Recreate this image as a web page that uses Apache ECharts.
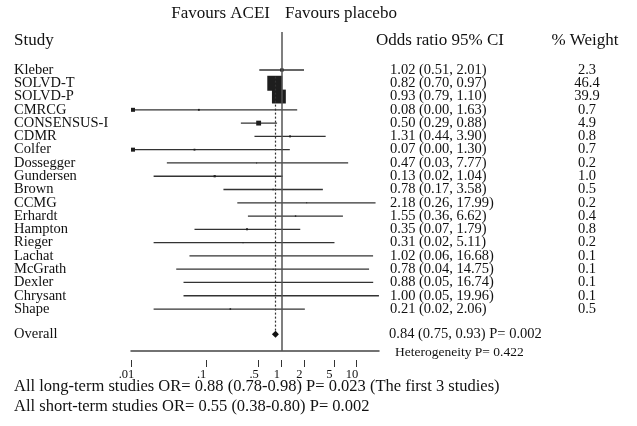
<!DOCTYPE html>
<html>
<head>
<meta charset="utf-8">
<script src="https://cdn.jsdelivr.net/npm/echarts@6/dist/echarts.min.js"></script>
<style>
html, body { margin: 0; padding: 0; background: #fff; }
#chart { width: 637px; height: 426px; }
</style>
</head>
<body>
<div id="chart"></div>
<script>
// study data
var studies = ['Kleber', 'SOLVD-T', 'SOLVD-P', 'CMRCG', 'CONSENSUS-I', 'CDMR', 'Colfer', 'Dossegger',
	'Gundersen', 'Brown', 'CCMG', 'Erhardt', 'Hampton', 'Rieger', 'Lachat', 'McGrath', 'Dexler', 'Chrysant', 'Shape'];
var oddsRatio = [1.02, 0.82, 0.93, 0.08, 0.50, 1.31, 0.07, 0.47, 0.13, 0.78, 2.18, 1.55, 0.35, 0.31, 1.02, 0.78, 0.88, 1.00, 0.21];
var ciLower = [0.51, 0.70, 0.79, 0.00, 0.29, 0.44, 0.00, 0.03, 0.02, 0.17, 0.26, 0.36, 0.07, 0.02, 0.06, 0.04, 0.05, 0.05, 0.02];
var ciUpper = [2.01, 0.97, 1.10, 1.63, 0.88, 3.90, 1.30, 7.77, 1.04, 3.58, 17.99, 6.62, 1.79, 5.11, 16.68, 14.75, 16.74, 19.96, 2.06];
var weights = [2.3, 46.4, 39.9, 0.7, 4.9, 0.8, 0.7, 0.2, 1.0, 0.5, 0.2, 0.4, 0.8, 0.2, 0.1, 0.1, 0.1, 0.1, 0.5];

// pooled estimate: OR, lower, upper
var overallEst = [0.84, 0.75, 0.93];
var overallP = '0.002';
var heterogeneityP = '0.422';

var tickValues = [0.01, 0.1, 0.5, 1, 2, 5, 10];

var footerLines = [
	'All long-term studies OR= 0.88 (0.78-0.98) P= 0.023 (The first 3 studies)',
	'All short-term studies OR= 0.55 (0.38-0.80) P= 0.002'
];

var FONT = '"Liberation Serif", "Times New Roman", serif';
var X_MIN = 0.01, X_MAX = 20;
var overallRow = studies.length + 0.9;

var fmt = function(v){
	return v.toFixed(2);
};

var txt = function(x, y, text, size, align){
	return {
		type:'text',
		x:x,
		y:y,
		style:{
			text:text,
			fill:'#111',
			fontFamily:FONT,
			fontSize:size,
			align:align || 'left',
			verticalAlign:'middle'
		}
	};
};

var chart = echarts.init(document.getElementById('chart'));

var studyData = [];
for( var i = 0; i < studies.length; i++ ){
	studyData.push([oddsRatio[i], i]);
}

chart.setOption({
	animation:false,
	grid:{left:131, right:258, top:32, bottom:75},
	xAxis:[
		{
			type:'log',
			logBase:10,
			min:X_MIN,
			max:X_MAX,
			position:'bottom',
			axisLine:{show:true, onZero:false, lineStyle:{color:'#444', width:1.5}},
			axisTick:{show:false},
			axisLabel:{show:false},
			splitLine:{show:false}
		},
		{
			type:'log',
			logBase:10,
			min:X_MIN,
			max:X_MAX,
			position:'bottom',
			offset:16,
			axisLine:{show:false, onZero:false},
			axisTick:{show:true, inside:true, length:7, customValues:tickValues, lineStyle:{color:'#333', width:1}},
			axisLabel:{
				customValues:tickValues,
				margin:1,
				fontFamily:FONT,
				fontSize:12.5,
				color:'#111',
				padding:[0, 9, 0, 0],
				formatter:function(v){
					return String(v).replace(/^0\./, '.');
				}
			},
			splitLine:{show:false}
		}
	],
	yAxis:{
		type:'value',
		inverse:true,
		min:-2.86,
		max:21.16,
		show:false
	},
	graphic:[
		txt(270, 14, 'Favours ACEI', 17, 'right'),
		txt(285, 14, 'Favours placebo', 17),
		txt(14, 41, 'Study', 17),
		txt(376, 41, 'Odds ratio 95% CI', 17),
		txt(585, 41, '% Weight', 17, 'center'),
		txt(14, 387, footerLines[0], 16.5),
		txt(14, 407, footerLines[1], 16.5)
	],
	series:[
		{
			type:'custom',
			xAxisIndex:0,
			data:studyData,
			encode:{x:0, y:1},
			clip:false,
			renderItem:function(params, api){
				var i = params.dataIndex;
				var lo = Math.max(ciLower[i], X_MIN);
				var pLo = api.coord([lo, i]);
				var pHi = api.coord([ciUpper[i], i]);
				var pEst = api.coord([api.value(0), i]);
				var y = pEst[1];
				var s = Math.max(Math.sqrt(weights[i]) * 2.2, 1);
				var children = [
					{type:'line', shape:{x1:pLo[0], y1:y, x2:pHi[0], y2:y}, style:{stroke:'#333', lineWidth:1.3}},
					{type:'rect', shape:{x:pEst[0] - s / 2, y:y - s / 2, width:s, height:s}, style:{fill:'#1e1e1e'}},
					txt(14, y, studies[i], 14.5),
					txt(390, y, fmt(oddsRatio[i]) + ' (' + fmt(ciLower[i]) + ', ' + fmt(ciUpper[i]) + ')', 14.5),
					txt(587, y, weights[i].toFixed(1), 14.5, 'center')
				];
				// CI truncated at the left edge
				if( ciLower[i] < X_MIN ){
					children.push({type:'rect', shape:{x:pLo[0], y:y - 2, width:4, height:4}, style:{fill:'#1e1e1e'}});
				}
				return {type:'group', children:children};
			},
			markLine:{
				silent:true,
				symbol:['none', 'none'],
				label:{show:false},
				data:[
					{xAxis:1, lineStyle:{color:'#555', width:1.5, type:'solid'}},
					[
						{coord:[overallEst[0], 0.5], lineStyle:{color:'#333', width:1.2, type:[2, 2]}},
						{coord:[overallEst[0], overallRow - 0.25]}
					]
				]
			}
		},
		{
			type:'custom',
			xAxisIndex:0,
			data:[[overallEst[0], overallRow]],
			encode:{x:0, y:1},
			clip:false,
			renderItem:function(params, api){
				var row = api.value(1);
				var pEst = api.coord([overallEst[0], row]);
				var pLo = api.coord([overallEst[1], row]);
				var pHi = api.coord([overallEst[2], row]);
				var y = pEst[1];
				return {
					type:'group',
					children:[
						{
							type:'polygon',
							shape:{points:[[pLo[0], y], [pEst[0], y - 3.5], [pHi[0], y], [pEst[0], y + 3.5]]},
							style:{fill:'#111'}
						},
						txt(14, y, 'Overall', 14.5),
						txt(389, y, fmt(overallEst[0]) + ' (' + fmt(overallEst[1]) + ', ' + fmt(overallEst[2]) + ') P= ' + overallP, 14.5),
						txt(395, y + 18, 'Heterogeneity P= ' + heterogeneityP, 13.5)
					]
				};
			}
		}
	]
});
</script>
</body>
</html>
